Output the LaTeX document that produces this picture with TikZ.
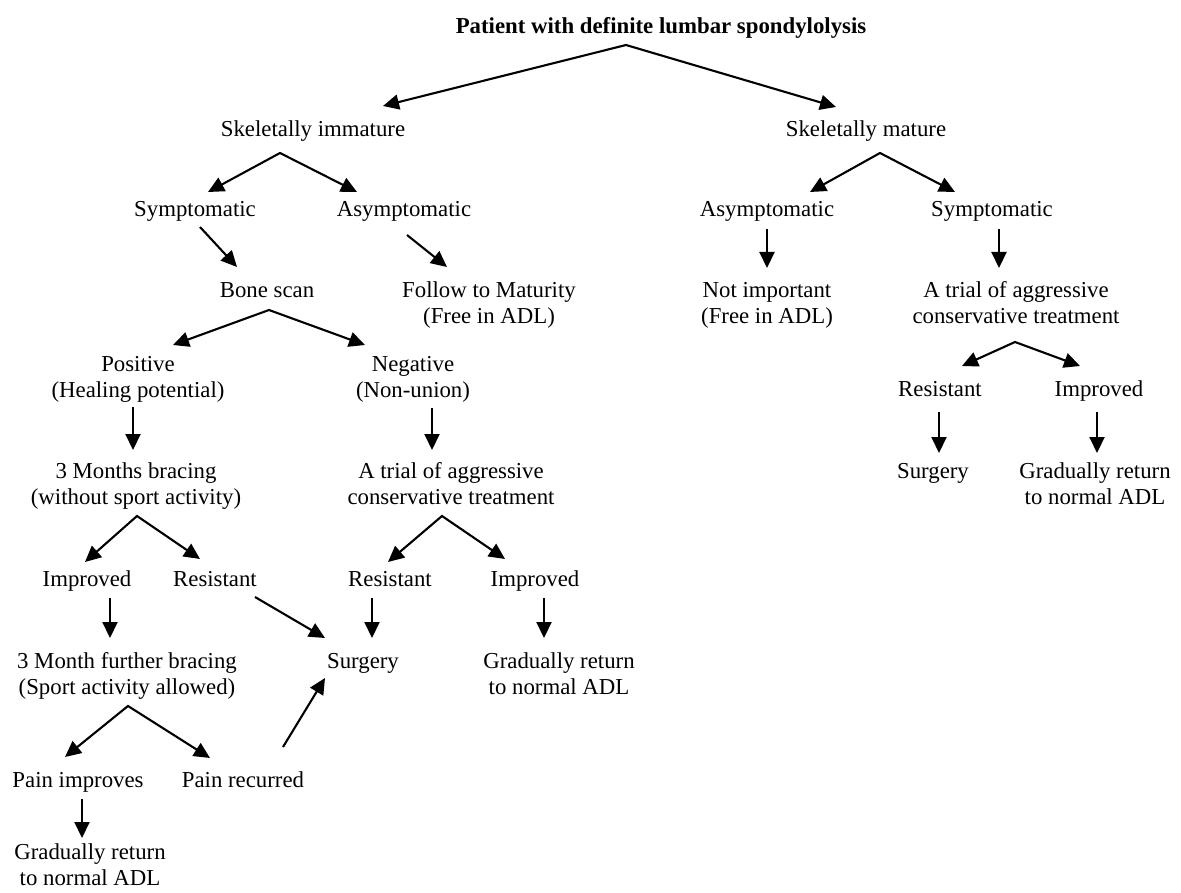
\documentclass[tikz,border=0pt]{standalone}
\usepackage{fontspec}
\setmainfont{Liberation Serif}
\usetikzlibrary{arrows.meta}
\begin{document}
\begin{tikzpicture}[x=1pt,y=-1pt,
  lbl/.style={anchor=base, align=center, inner sep=0pt, yshift=-2pt, font=\fontsize{22.8}{26}\selectfont},
  tip/.tip={Triangle[length=16pt,width=15pt]},
  arr/.style={line width=2.1pt, -tip},
  fork/.style={line width=2.1pt, tip-tip, line join=miter}]
\useasboundingbox (0,0) rectangle (1181,893);
% nodes (anchor=base is the baseline of the last line)
\node[lbl] (title) at (661,32) {\textbf{Patient with definite lumbar spondylolysis}};
\node[lbl] (simm) at (313,135) {Skeletally immature};
\node[lbl] (smat) at (866,135) {Skeletally mature};
\node[lbl] (lsym) at (195,215) {Symptomatic};
\node[lbl] (lasym) at (404,215) {Asymptomatic};
\node[lbl] (rasym) at (767,215) {Asymptomatic};
\node[lbl] (rsym) at (992,215) {Symptomatic};
\node[lbl] (bone) at (267,296) {Bone scan};
\node[lbl] (follow) at (489,322) {Follow to Maturity\\(Free in ADL)};
\node[lbl] (notimp) at (767,322) {Not important\\(Free in ADL)};
\node[lbl] (rtrial) at (1016,322) {A trial of aggressive\\conservative treatment};
\node[lbl] (pos) at (138,395) {Positive\\(Healing potential)};
\node[lbl] (neg) at (413,395) {Negative\\(Non-union)};
\node[lbl] (rres) at (940,394) {Resistant};
\node[lbl] (rimp) at (1099,394) {Improved};
\node[lbl] (brace) at (136,502) {3 Months bracing\\(without sport activity)};
\node[lbl] (mtrial) at (451,502) {A trial of aggressive\\conservative treatment};
\node[lbl] (rsurg) at (933,476) {Surgery};
\node[lbl] (rgrad) at (1095,502) {Gradually return\\to normal ADL};
\node[lbl] (imp1) at (87,584) {Improved};
\node[lbl] (res1) at (215,584) {Resistant};
\node[lbl] (res2) at (390,584) {Resistant};
\node[lbl] (imp2) at (535,584) {Improved};
\node[lbl] (further) at (127,692) {3 Month further bracing\\(Sport activity allowed)};
\node[lbl] (surg) at (363,666) {Surgery};
\node[lbl] (mgrad) at (559,692) {Gradually return\\to normal ADL};
\node[lbl] (painimp) at (78,785) {Pain improves};
\node[lbl] (painrec) at (243,785) {Pain recurred};
\node[lbl] (bgrad) at (90,883) {Gradually return\\to normal ADL};
% connector points
\coordinate (a0) at (626,45);  \coordinate (a0l) at (383,106); \coordinate (a0r) at (836,107);
\coordinate (a1) at (280,153); \coordinate (a1l) at (208,192); \coordinate (a1r) at (357,192);
\coordinate (a2) at (880,153); \coordinate (a2l) at (810,192); \coordinate (a2r) at (955,192);
\coordinate (b1s) at (200,227); \coordinate (b1e) at (237,267);
\coordinate (b2s) at (407,235); \coordinate (b2e) at (447,267);
\coordinate (b3s) at (767,229); \coordinate (b3e) at (767,268);
\coordinate (b4s) at (999,229); \coordinate (b4e) at (999,268);
\coordinate (a3) at (269,310); \coordinate (a3l) at (173,345); \coordinate (a3r) at (365,345);
\coordinate (a4) at (1015,342); \coordinate (a4l) at (962,366); \coordinate (a4r) at (1080,366);
\coordinate (c1s) at (133,407); \coordinate (c1e) at (133,450);
\coordinate (c2s) at (432,408); \coordinate (c2e) at (432,450);
\coordinate (c3s) at (939,412); \coordinate (c3e) at (939,453);
\coordinate (c4s) at (1097,412); \coordinate (c4e) at (1097,453);
\coordinate (a5) at (137,516); \coordinate (a5l) at (85,562); \coordinate (a5r) at (200,559);
\coordinate (a6) at (442,516); \coordinate (a6l) at (388,562); \coordinate (a6r) at (505,559);
\coordinate (d1s) at (110,598); \coordinate (d1e) at (110,638);
\coordinate (d2s) at (255,597); \coordinate (d2e) at (325,638);
\coordinate (d3s) at (372,598); \coordinate (d3e) at (372,638);
\coordinate (d4s) at (544,598); \coordinate (d4e) at (544,638);
\coordinate (a7) at (128,706); \coordinate (a7l) at (65,757); \coordinate (a7r) at (210,758);
\coordinate (e1s) at (283,747); \coordinate (e1e) at (325,678);
\coordinate (f1s) at (82,799); \coordinate (f1e) at (82,838);
% connectors
\draw[fork] (a0l) -- (a0) -- (a0r);
\draw[fork] (a1l) -- (a1) -- (a1r);
\draw[fork] (a2l) -- (a2) -- (a2r);
\draw[arr] (b1s) -- (b1e);
\draw[arr] (b2s) -- (b2e);
\draw[arr] (b3s) -- (b3e);
\draw[arr] (b4s) -- (b4e);
\draw[fork] (a3l) -- (a3) -- (a3r);
\draw[fork] (a4l) -- (a4) -- (a4r);
\draw[arr] (c1s) -- (c1e);
\draw[arr] (c2s) -- (c2e);
\draw[arr] (c3s) -- (c3e);
\draw[arr] (c4s) -- (c4e);
\draw[fork] (a5l) -- (a5) -- (a5r);
\draw[fork] (a6l) -- (a6) -- (a6r);
\draw[arr] (d1s) -- (d1e);
\draw[arr] (d2s) -- (d2e);
\draw[arr] (d3s) -- (d3e);
\draw[arr] (d4s) -- (d4e);
\draw[fork] (a7l) -- (a7) -- (a7r);
\draw[arr] (e1s) -- (e1e);
\draw[arr] (f1s) -- (f1e);
\end{tikzpicture}
\end{document}
